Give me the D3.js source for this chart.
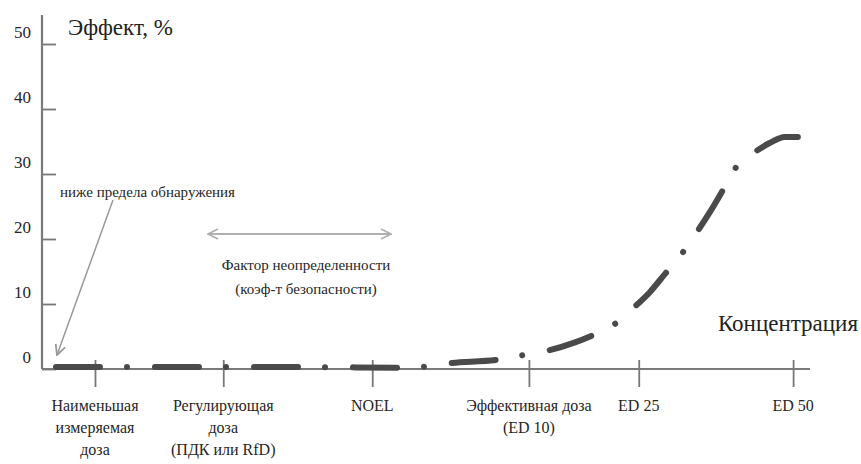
<!DOCTYPE html>
<html><head><meta charset="utf-8">
<script src="https://cdn.jsdelivr.net/npm/d3@7"></script>
<style>
body{margin:0;background:#fff;}
svg{display:block;}
</style></head>
<body><svg id="c" width="861" height="464"></svg>
<script>
// ---- data ----
const yTicks = [0, 10, 20, 30, 40, 50];
const xTickPos = [6.9, 23.6, 43.0, 63.4, 77.7, 97.8];
const xTickLabels = [
  ["Наименьшая", "измеряемая", "доза"],
  ["Регулирующая", "доза", "(ПДК или RfD)"],
  ["NOEL"],
  ["Эффективная доза", "(ED 10)"],
  ["ED 25"],
  ["ED 50"]
];
const curveX = [1.3, 14.1, 33.6, 47.9, 53.1, 59.9, 62.9, 66.1, 69.4, 72.3, 74.2, 76.6, 79.2, 81.1, 83.1, 85.0, 87.0, 88.5, 90.1, 92.4, 94.8, 96.7, 98.7];
const curveY = [0.3, 0.3, 0.3, 0.2, 0.9, 1.5, 2.2, 2.9, 4.1, 5.5, 6.6, 9.0, 11.9, 14.6, 17.4, 20.6, 24.2, 27.2, 30.6, 33.0, 34.8, 35.7, 35.7];
const yTitle = "Эффект, %";
const xTitle = "Концентрация";
const noteText = "ниже предела обнаружения";
const factorText = ["Фактор неопределенности", "(коэф-т безопасности)"];

// ---- chart ----
const SERIF = "'Liberation Serif', 'Times New Roman', serif";
const svg = d3.select("#c").style("font-family", SERIF);
const x = d3.scaleLinear().domain([0, 100]).range([42, 810]);
const y = d3.scaleLinear().domain([0, 50]).range([369, 44]);

const defs = svg.append("defs");
function marker(id, color){
  defs.append("marker").attr("id", id).attr("viewBox", "0 0 12 12")
    .attr("refX", 11).attr("refY", 6).attr("markerWidth", 12).attr("markerHeight", 12)
    .attr("markerUnits", "userSpaceOnUse").attr("orient", "auto-start-reverse")
    .append("path").attr("d", "M1,1 L11,6 L1,11").attr("fill", "none")
    .attr("stroke", color).attr("stroke-width", 1.8);
}
marker("arrG", "#999");
marker("arrL", "#b0b0b0");

function txt(sel, size){
  return sel.style("font-family", SERIF).style("font-size", size + "px").attr("fill", "#262626");
}

// y axis
const yAxis = svg.append("g").attr("transform", `translate(${x(0)},0)`)
  .call(d3.axisLeft(y).tickValues(yTicks).tickSize(-14).tickPadding(11).tickSizeOuter(0));
yAxis.attr("font-family", null);
yAxis.select(".domain").remove();
yAxis.selectAll(".tick line").attr("stroke", "#777").attr("stroke-width", 1.8);
txt(yAxis.selectAll(".tick text").attr("dy", "-0.4em"), 17);
svg.append("line").attr("x1", x(0)).attr("x2", x(0)).attr("y1", 15).attr("y2", y(0))
  .attr("stroke", "#7a7a7a").attr("stroke-width", 2.2);

// x axis
const xAxis = svg.append("g").attr("transform", `translate(0,${y(0)})`)
  .call(d3.axisBottom(x).tickValues(xTickPos).tickSize(18).tickFormat("").tickSizeOuter(0));
xAxis.select(".domain").remove();
xAxis.selectAll(".tick line").attr("y1", -9).attr("stroke", "#777").attr("stroke-width", 1.8);
svg.append("line").attr("x1", x(0)).attr("x2", 810).attr("y1", y(0)).attr("y2", y(0))
  .attr("stroke", "#7a7a7a").attr("stroke-width", 2.2);

// x tick labels
xTickPos.forEach((p, i) => {
  const t = txt(svg.append("text").attr("x", x(p)).attr("y", 411).attr("text-anchor", "middle"), 16);
  xTickLabels[i].forEach((s, j) => {
    t.append("tspan").attr("x", x(p)).attr("dy", j === 0 ? 0 : 22).text(s);
  });
});

// curve
const line = d3.line().x((d, i) => x(curveX[i])).y((d, i) => y(curveY[i])).curve(d3.curveMonotoneX);
svg.append("path").attr("d", line(curveX))
  .attr("fill", "none").attr("stroke", "#4a4a4a").attr("stroke-width", 6)
  .attr("stroke-linecap", "round").attr("stroke-dasharray", "44,27,0.01,28")
  .attr("stroke-dashoffset", -4);

// titles
txt(svg.append("text").attr("x", 68).attr("y", 35), 23).attr("fill", "#222").text(yTitle);
txt(svg.append("text").attr("x", 858).attr("y", 331).attr("text-anchor", "end"), 23).attr("fill", "#222").text(xTitle);

// note with arrow
txt(svg.append("text").attr("x", 60).attr("y", 197), 15).text(noteText);
svg.append("line").attr("x1", 113).attr("y1", 200).attr("x2", 57).attr("y2", 355)
  .attr("stroke", "#999").attr("stroke-width", 1.5).attr("marker-end", "url(#arrG)");

// uncertainty factor
svg.append("line").attr("x1", 208).attr("x2", 391).attr("y1", 234).attr("y2", 234)
  .attr("stroke", "#b0b0b0").attr("stroke-width", 2)
  .attr("marker-start", "url(#arrL)").attr("marker-end", "url(#arrL)");
const ft = txt(svg.append("text").attr("x", 306).attr("y", 270).attr("text-anchor", "middle"), 15);
factorText.forEach((s, j) => ft.append("tspan").attr("x", 306).attr("dy", j ? 24 : 0).text(s));
</script></body></html>
